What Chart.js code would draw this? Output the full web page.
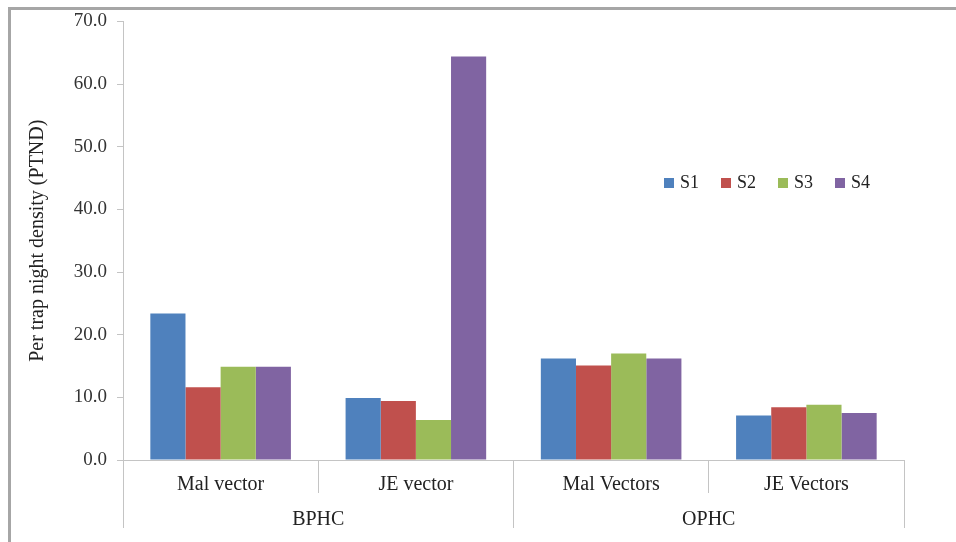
<!DOCTYPE html>
<html>
<head>
<meta charset="utf-8">
<script src="https://cdn.jsdelivr.net/npm/chart.js@4"></script>
<style>
    html, body { margin: 0; padding: 0; background: #fff; }
    #wrap { position: relative; width: 956px; height: 542px; }
    #frame {
        position: absolute; left: 8px; top: 7px; right: 0; bottom: 0;
        border-left: 3px solid #a6a6a6; border-top: 3px solid #a6a6a6;
        pointer-events: none;
    }
    #legend {
        position: absolute; left: 664px; top: 172px;
        display: flex; font-family: "Liberation Serif", serif; font-size: 18px; color: #222;
    }
    .legend-item { display: flex; align-items: center; width: 57px; }
    .legend-box { width: 10px; height: 10px; margin-right: 6px; }
</style>
</head>
<body>
<div id="wrap">
    <canvas id="chart" width="956" height="542"></canvas>
    <div id="frame"></div>
    <div id="legend"></div>
</div>
<script>
// Data
const categories = ["Mal vector", "JE vector", "Mal Vectors", "JE Vectors"];
const groups = ["BPHC", "OPHC"];
const seriesNames = ["S1", "S2", "S3", "S4"];
const s1 = [23.4, 9.9, 16.2, 7.1];
const s2 = [11.6, 9.4, 15.1, 8.4];
const s3 = [14.9, 6.4, 17.0, 8.8];
const s4 = [14.9, 64.4, 16.2, 7.5];
const yTicks = [0, 10, 20, 30, 40, 50, 60, 70];

const colors = ["#4F81BD", "#C0504D", "#9BBB59", "#8064A2"];
const gridColor = "#c4c4c4";
const textFont = "'Liberation Serif', 'Times New Roman', serif";

const datasets = [s1, s2, s3, s4].map((values, i) => ({
    label: seriesNames[i],
    data: values,
    backgroundColor: colors[i],
    borderWidth: 0,
    categoryPercentage: 0.72,
    barPercentage: 1.0
}));

const chart = new Chart(document.getElementById("chart"), {
    type: "bar",
    data: { labels: categories, datasets: datasets },
    options: {
        responsive: false,
        animation: false,
        layout: { padding: { left: 22, right: 52, top: 17, bottom: 0 } },
        plugins: {
            legend: { display: false },
            tooltip: { enabled: false }
        },
        scales: {
            y: {
                min: 0,
                max: 70,
                afterBuildTicks: scale => {
                    scale.ticks = yTicks.map(v => ({ value: v }));
                },
                afterFit: scale => { scale.width = 101; },
                ticks: {
                    callback: v => Number(v).toFixed(1),
                    font: { family: textFont, size: 19 },
                    color: "#333",
                    padding: 10
                },
                grid: { drawOnChartArea: false, tickLength: 6, color: gridColor },
                border: { color: gridColor },
                title: {
                    display: true,
                    text: "Per trap night density (PTND)",
                    font: { family: textFont, size: 20 },
                    color: "#222"
                }
            },
            x: {
                position: "bottom",
                afterFit: scale => { scale.height = 33; },
                ticks: {
                    font: { family: textFont, size: 20 },
                    color: "#222",
                    padding: -20,
                    maxRotation: 0
                },
                grid: { offset: true, drawOnChartArea: false, tickLength: 33, color: gridColor },
                border: { color: gridColor }
            },
            x2: {
                type: "category",
                position: "bottom",
                labels: groups,
                afterFit: scale => { scale.height = 49; },
                ticks: {
                    font: { family: textFont, size: 20 },
                    color: "#222",
                    padding: -20,
                    maxRotation: 0
                },
                grid: { offset: true, drawOnChartArea: false, tickLength: 35, color: gridColor },
                border: { display: false }
            }
        }
    }
});

// HTML legend built from the chart's datasets
const legendEl = document.getElementById("legend");
chart.data.datasets.forEach(ds => {
    const item = document.createElement("div");
    item.className = "legend-item";
    item.innerHTML = `<span class="legend-box" style="background:${ds.backgroundColor}"></span><span>${ds.label}</span>`;
    legendEl.appendChild(item);
});
</script>
</body>
</html>
